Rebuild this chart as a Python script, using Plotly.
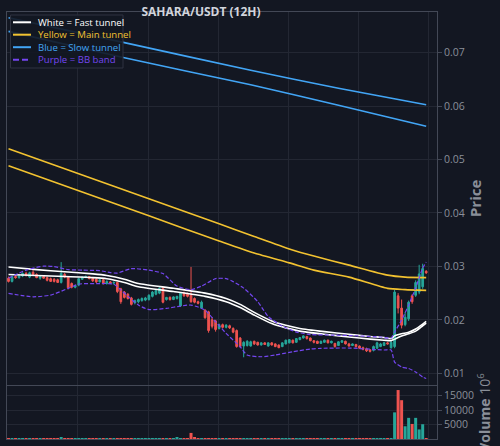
import pandas as pd
import plotly.graph_objects as go

# ---------------- data ----------------
start_time = "2025-07-01 00:00"
n_candles = 120

opens = [
    .0278, .0272, .0281, .0279, .0282, .0287, .0280, .0289, .0285, .0278,
    .0281, .0279, .0277, .0276, .0275, .0270, .0285, .0281, .0268, .0261,
    .0265, .0276, .0280, .0281, .0278, .0276, .0271, .0275, .0268, .0271,
    .0269, .0270, .0258, .0252, .0248, .0241, .0232, .0234, .0236, .0237,
    .0238, .0244, .0248, .0250, .0259, .0238, .0242, .0238, .0240, .0226,
    .0250, .0248, .0246, .0240, .0234, .0222, .0218, .0215, .0200, .0198,
    .0184, .0191, .0186, .0189, .0184, .0180, .0166, .0151, .0152, .0151,
    .0160, .0158, .0153, .0157, .0151, .0157, .0155, .0153, .0150, .0155,
    .0157, .0162, .0158, .0163, .0166, .0169, .0166, .0161, .0160, .0156,
    .0158, .0162, .0157, .0156, .0152, .0158, .0160, .0155, .0152, .0154,
    .0151, .0148, .0146, .0144, .0143, .0147, .0150, .0152, .0157, .0148,
    .0150, .0245, .0222, .0191, .0202, .0245, .0246, .0252, .0262, .0291]
highs = [
    .0281, .0283, .0284, .0284, .0289, .0290, .0290, .0293, .0287, .0283,
    .0283, .0281, .0279, .0278, .0277, .0308, .0288, .0282, .0270, .0266,
    .0279, .0281, .0283, .0282, .0279, .0278, .0276, .0276, .0274, .0273,
    .0272, .0271, .0260, .0254, .0250, .0243, .0238, .0240, .0242, .0243,
    .0248, .0254, .0257, .0261, .0261, .0243, .0244, .0244, .0245, .0252,
    .0253, .0251, .0299, .0242, .0236, .0236, .0220, .0217, .0205, .0200,
    .0193, .0193, .0192, .0191, .0186, .0182, .0168, .0160, .0162, .0161,
    .0161, .0159, .0158, .0158, .0158, .0158, .0156, .0154, .0158, .0163,
    .0164, .0163, .0166, .0168, .0171, .0170, .0167, .0162, .0161, .0161,
    .0163, .0163, .0161, .0157, .0160, .0162, .0161, .0157, .0156, .0155,
    .0152, .0150, .0148, .0145, .0152, .0159, .0157, .0159, .0159, .0160,
    .0256, .0250, .0238, .0215, .0236, .0248, .0274, .0303, .0305, .0293]
lows = [
    .0270, .0270, .0277, .0277, .0280, .0281, .0278, .0283, .0278, .0275,
    .0277, .0272, .0271, .0270, .0269, .0268, .0278, .0257, .0259, .0259,
    .0263, .0275, .0278, .0276, .0271, .0269, .0270, .0266, .0266, .0267,
    .0266, .0250, .0230, .0240, .0238, .0227, .0229, .0231, .0234, .0235,
    .0236, .0242, .0246, .0248, .0231, .0236, .0236, .0237, .0238, .0224,
    .0243, .0242, .0232, .0231, .0229, .0222, .0202, .0176, .0184, .0178,
    .0182, .0184, .0184, .0183, .0175, .0148, .0148, .0130, .0150, .0150,
    .0153, .0152, .0152, .0153, .0150, .0152, .0149, .0147, .0149, .0154,
    .0156, .0156, .0157, .0162, .0165, .0163, .0160, .0156, .0155, .0155,
    .0157, .0156, .0156, .0148, .0151, .0157, .0154, .0150, .0151, .0148,
    .0146, .0143, .0140, .0139, .0141, .0146, .0149, .0151, .0154, .0146,
    .0147, .0212, .0184, .0188, .0198, .0230, .0243, .0248, .0258, .0286]
closes = [
    .0272, .0281, .0279, .0282, .0287, .0284, .0288, .0285, .0279, .0281,
    .0278, .0274, .0272, .0272, .0270, .0287, .0280, .0260, .0261, .0264,
    .0277, .0280, .0281, .0277, .0273, .0271, .0275, .0268, .0272, .0269,
    .0270, .0253, .0234, .0242, .0240, .0229, .0236, .0238, .0240, .0241,
    .0246, .0252, .0255, .0259, .0233, .0242, .0238, .0243, .0244, .0250,
    .0245, .0244, .0234, .0233, .0231, .0233, .0204, .0180, .0188, .0182,
    .0191, .0186, .0190, .0185, .0177, .0150, .0150, .0158, .0160, .0159,
    .0155, .0153, .0157, .0154, .0157, .0153, .0150, .0148, .0157, .0162,
    .0163, .0157, .0165, .0167, .0170, .0165, .0161, .0158, .0156, .0160,
    .0162, .0157, .0160, .0150, .0159, .0161, .0155, .0151, .0155, .0150,
    .0147, .0145, .0142, .0141, .0150, .0157, .0155, .0157, .0155, .0158,
    .0252, .0222, .0190, .0205, .0233, .0234, .0270, .0286, .0296, .0288]
volumes = [
    120, 90, 80, 110, 95, 70, 130, 85, 100, 75,
    80, 95, 70, 60, 110, 450, 120, 150, 90, 80,
    100, 70, 60, 85, 90, 75, 65, 80, 95, 70,
    85, 140, 180, 110, 95, 120, 100, 80, 70, 90,
    85, 100, 110, 95, 150, 90, 80, 100, 350, 160,
    120, 140, 2100, 700, 150, 130, 250, 220, 140, 110,
    90, 80, 100, 85, 120, 180, 260, 240, 130, 100,
    80, 70, 90, 65, 75, 80, 95, 70, 85, 100,
    90, 80, 110, 95, 120, 80, 75, 70, 85, 90,
    80, 70, 65, 90, 85, 75, 80, 95, 70, 85,
    90, 100, 110, 120, 150, 320, 180, 140, 120, 200,
    9200, 16900, 13400, 4400, 7300, 5200, 7300, 3300, 5100, 150]

# fast tunnel (white), sampled at candle index
fast_idx = [0, 8, 16, 24, 28, 33, 37, 47, 56, 62, 66, 70, 75, 79, 83, 90, 97, 103, 107, 109,
            110, 112, 114, 116, 118, 119]
fast_upper = [.0299, .0294, .0290, .0286, .0283, .0276, .0268, .0259, .0250, .0240, .0229, .0214,
              .0198, .0190, .0184, .0178, .0173, .0169, .0167, .0165,
              .0170, .0174, .0177, .0183, .0192, .0197]
fast_lower = [.0285, .0283, .0281, .0279, .0277, .0270, .0262, .0253, .0244, .0234, .0223, .0209,
              .0193, .0185, .0179, .0173, .0168, .0164, .0162, .0161,
              .0164, .0170, .0174, .0179, .0189, .0194]

# main tunnel (yellow)
main_idx = [0, 20, 40, 60, 70, 80, 87, 97, 108, 113, 119]
main_upper = [.05202, .04733, .04264, .03796, .03560, .03327, .03193, .03024, .02837, .02800, .02791]
main_lower = [.04884, .04415, .03946, .03477, .03250, .03066, .02931, .02800, .02589, .02566, .02551]

# slow tunnel (blue)
slow_idx = [0, 33, 69, 94, 119]
slow_upper = [.07654, .07187, .06669, .06333, .06024]
slow_lower = [.07398, .06903, .06398, .06015, .05622]

# Bollinger band (purple)
bb_up_idx = [0, 5, 10, 13, 17, 21, 26, 29, 31, 35, 40, 44, 48, 52, 55, 59, 62, 64, 67, 71, 74,
             78, 82, 86, 92, 97, 106, 109, 110, 112, 114, 116, 118, 119]
bb_upper = [.02781, .02931, .03006, .02996, .02940, .02931, .02921, .02884, .02875, .02959,
            .02931, .02866, .02632, .02566, .02632, .02772, .02772, .02716, .02594, .02342,
            .02062, .01884, .01772, .01725, .01716, .01707, .01679, .01660, .01772, .01996,
            .02277, .02595, .02968, .03080]
bb_lo_idx = [0, 7, 12, 17, 20, 26, 30, 32, 37, 40, 45, 49, 52, 56, 59, 62, 66, 68, 72, 76, 81,
             86, 89, 97, 107, 109, 110, 112, 114, 116, 118, 119]
bb_lower = [.02495, .02432, .02464, .02589, .02669, .02679, .02669, .02560, .02277, .02193,
            .02215, .02258, .02277, .02183, .01964, .01748, .01497, .01342, .01310, .01342,
            .01404, .01454, .01467, .01473, .01436, .01436, .01211, .01118, .01090, .01024,
            .00931, .00903]

legend_labels = ["White = Fast tunnel", "Yellow = Main tunnel", "Blue = Slow tunnel", "Purple = BB band"]
chart_title = "SAHARA/USDT (12H)"
volume_ticks = [5000, 10000, 15000]

# ---------------- style ----------------
BG = "#131722"
GRID = "#232733"
FRAME = "#434856"
TXT = "#8a8f99"
UP = "#26a69a"
DOWN = "#ef5350"
WHITE = "#ffffff"
YELLOW = "#f2c230"
BLUE = "#42a5f5"
PURPLE = "#7446f0"
FONT = "Open Sans"

dates = pd.date_range(start_time, periods=n_candles, freq="12h")


def pick(idx):
    return [dates[i] for i in idx]


fig = go.Figure()

fig.add_trace(go.Candlestick(
    x=dates, open=opens, high=highs, low=lows, close=closes,
    increasing=dict(line=dict(color=UP, width=1), fillcolor=UP),
    decreasing=dict(line=dict(color=DOWN, width=1), fillcolor=DOWN),
    showlegend=False, xaxis="x", yaxis="y"))

line_specs = [
    (slow_idx, slow_upper, BLUE, 1.6, None),
    (slow_idx, slow_lower, BLUE, 1.6, None),
    (main_idx, main_upper, YELLOW, 1.6, None),
    (main_idx, main_lower, YELLOW, 1.6, None),
    (fast_idx, fast_upper, WHITE, 1.6, None),
    (fast_idx, fast_lower, WHITE, 1.6, None),
    (bb_up_idx, bb_upper, PURPLE, 1.2, "4px,2px"),
    (bb_lo_idx, bb_lower, PURPLE, 1.2, "4px,2px"),
]
for idx, vals, col, w, dash in line_specs:
    fig.add_trace(go.Scatter(
        x=pick(idx), y=vals, mode="lines",
        line=dict(color=col, width=w, dash=dash, shape="spline", smoothing=0.6),
        showlegend=False, hoverinfo="skip", xaxis="x", yaxis="y"))

vol_colors = [UP if c >= o else DOWN for o, c in zip(opens, closes)]
fig.add_trace(go.Bar(
    x=dates, y=volumes, marker=dict(color=vol_colors, line=dict(width=0)),
    showlegend=False, xaxis="x2", yaxis="y2"))

# ---------------- layout ----------------
W, H = 500, 446
ML, MR, MT, MB = 7, 63, 12, 7
PW, PH = W - ML - MR, H - MT - MB


def px_x(px):
    return (px - ML) / PW


def px_y(py):
    return (H - MB - py) / PH


x_range = [dates[0] - pd.Timedelta(hours=5.2), dates[0] + pd.Timedelta(hours=12 * 122.08)]
xcommon = dict(range=x_range, showticklabels=False, ticks="", showgrid=True, gridcolor=GRID,
               gridwidth=1, tick0="2025-07-10 21:00", dtick=10 * 86400000,
               showline=True, linecolor=FRAME, linewidth=1, mirror=True, zeroline=False)

fig.update_layout(
    width=W, height=H,
    margin=dict(l=ML, r=MR, t=MT, b=MB, pad=0),
    paper_bgcolor=BG, plot_bgcolor=BG,
    font=dict(family=FONT, color=TXT, size=10),
    showlegend=False,
    bargap=0.15,
    title=dict(text="<b>" + chart_title + "</b>", x=201 / W, xanchor="center",
               y=1 - 11.5 / H, yanchor="middle", font=dict(size=12, color="#d1d4dc", family=FONT)),
    xaxis=dict(**xcommon, domain=[0, 1], anchor="y", rangeslider=dict(visible=False)),
    xaxis2=dict(**xcommon, domain=[0, 1], anchor="y2", matches="x"),
    yaxis=dict(domain=[px_y(384.7), 1], side="right", range=[0.00787, 0.0776],
               dtick=0.01, tick0=0, tickformat=".2f", ticks="outside", ticklen=4, tickcolor=FRAME,
               showgrid=True, gridcolor=GRID, showline=True, linecolor=FRAME, mirror=True,
               zeroline=False, tickfont=dict(size=10.5, color=TXT),
               title=dict(text="<b>Price</b>", font=dict(size=15, color=TXT), standoff=6)),
    yaxis2=dict(domain=[0, px_y(386)], side="right", range=[0, 18300],
                tickvals=volume_ticks, ticktext=[str(v) for v in volume_ticks],
                ticks="outside", ticklen=4, tickcolor=FRAME,
                showgrid=True, gridcolor=GRID, showline=True, linecolor=FRAME, mirror=True,
                zeroline=False, tickfont=dict(size=10.5, color=TXT),
                title=dict(text="<b>Volume</b> 10<sup>6</sup>", font=dict(size=14, color=TXT), standoff=6)),
)

# custom compact legend box
shapes = [dict(type="rect", xref="paper", yref="paper",
               x0=px_x(10.5), x1=px_x(123), y0=px_y(68), y1=px_y(15),
               fillcolor="rgba(19,23,34,0.9)", line=dict(color="#2e3240", width=1), layer="above")]
legend_cols = [WHITE, YELLOW, BLUE, PURPLE]
legend_y = [22.3, 34.7, 47.2, 59.8]
annotations = []
for lab, col, yy in zip(legend_labels, legend_cols, legend_y):
    shapes.append(dict(type="line", xref="paper", yref="paper",
                       x0=px_x(13), x1=px_x(31), y0=px_y(yy), y1=px_y(yy),
                       line=dict(color=col, width=2, dash="6px,3px" if col == PURPLE else None),
                       layer="above"))
    annotations.append(dict(text=lab, xref="paper", yref="paper", x=px_x(36.3), y=px_y(yy),
                            xanchor="left", yanchor="middle", showarrow=False,
                            font=dict(size=9.6, color=col, family=FONT)))
fig.update_layout(shapes=shapes, annotations=annotations)

fig.write_html("out.html")
